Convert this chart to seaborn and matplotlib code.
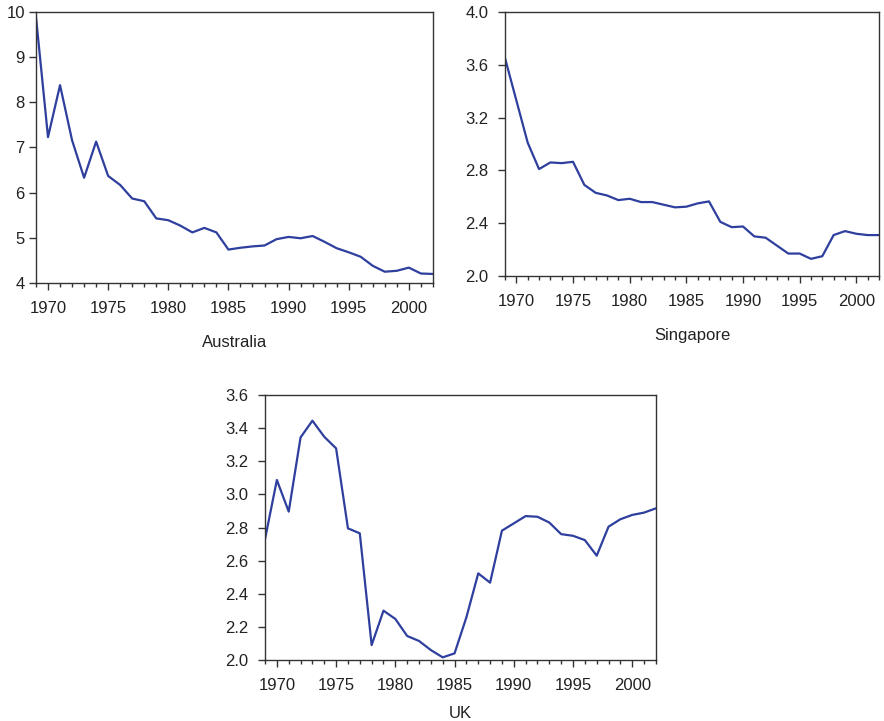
import matplotlib
matplotlib.use("Agg")
import matplotlib.pyplot as plt
import seaborn as sns
import pandas as pd
import numpy as np
from matplotlib.ticker import MultipleLocator, FormatStrFormatter

years = list(range(1969, 2003))

australia = [9.89, 7.23, 8.38, 7.16, 6.33, 7.13, 6.37, 6.17, 5.87, 5.81,
             5.43, 5.39, 5.27, 5.12, 5.22, 5.12, 4.74, 4.78, 4.81, 4.83,
             4.97, 5.02, 4.99, 5.04, 4.91, 4.77, 4.68, 4.58, 4.38, 4.25,
             4.27, 4.34, 4.21, 4.20]

singapore = [3.65, 3.33, 3.01, 2.81, 2.86, 2.855, 2.865, 2.69, 2.63, 2.61,
             2.575, 2.585, 2.56, 2.56, 2.54, 2.52, 2.525, 2.55, 2.565, 2.41,
             2.37, 2.375, 2.30, 2.29, 2.23, 2.17, 2.17, 2.13, 2.15, 2.31,
             2.34, 2.32, 2.31, 2.31]

uk = [2.73, 3.087, 2.896, 3.344, 3.445, 3.348, 3.278, 2.795, 2.765, 2.09,
      2.298, 2.248, 2.145, 2.115, 2.06, 2.016, 2.04, 2.258, 2.523, 2.467,
      2.781, 2.825, 2.869, 2.865, 2.83, 2.76, 2.75, 2.724, 2.63, 2.805,
      2.85, 2.876, 2.89, 2.916]

country_names = ["Australia", "Singapore", "UK"]
x_ticks = [1970, 1975, 1980, 1985, 1990, 1995, 2000]

sns.set_theme(style="ticks")
plt.rcParams["font.family"] = ["Liberation Sans", "DejaVu Sans"]

fig = plt.figure(figsize=(8.84, 7.21), dpi=100)

line_color = "#2e3f9e"

panels = [
    ("Australia", australia, [0.0407, 0.6075, 0.449, 0.3759], (4, 10), 1, "%d", 14, 3),
    ("Singapore", singapore, [0.5713, 0.6172, 0.4230, 0.3662], (2.0, 4.0), 0.4, "%.1f", 14, 7),
    ("UK", uk, [0.2998, 0.0846, 0.4422, 0.3675], (2.0, 3.6), 0.2, "%.1f", 9, 7),
]

for name, vals, pos, ylim, ystep, fmt, lpad, ypad in panels:
    ax = fig.add_axes(pos)
    df = pd.DataFrame({"year": years, "value": vals})
    sns.lineplot(data=df, x="year", y="value", ax=ax, color=line_color, linewidth=1.6)
    ax.set_xlim(1969, 2002)
    ax.set_ylim(*ylim)
    ax.set_xticks(x_ticks)
    ax.xaxis.set_minor_locator(MultipleLocator(1))
    ax.yaxis.set_major_locator(MultipleLocator(ystep))
    ax.yaxis.set_major_formatter(FormatStrFormatter(fmt))
    ax.tick_params(axis="both", which="major", labelsize=12, length=5, width=1,
                   color="#333333", labelcolor="#222222", direction="out")
    ax.tick_params(axis="x", which="major", pad=8)
    ax.tick_params(axis="y", which="major", pad=ypad)
    ax.tick_params(axis="x", which="minor", length=3, width=1, color="#333333")
    ax.set_ylabel("")
    ax.set_xlabel(name, fontsize=12, color="#222222", labelpad=lpad)
    for s in ax.spines.values():
        s.set_visible(True)
        s.set_color("#333333")
        s.set_linewidth(1.0)

fig.savefig("out.png", dpi=100)
